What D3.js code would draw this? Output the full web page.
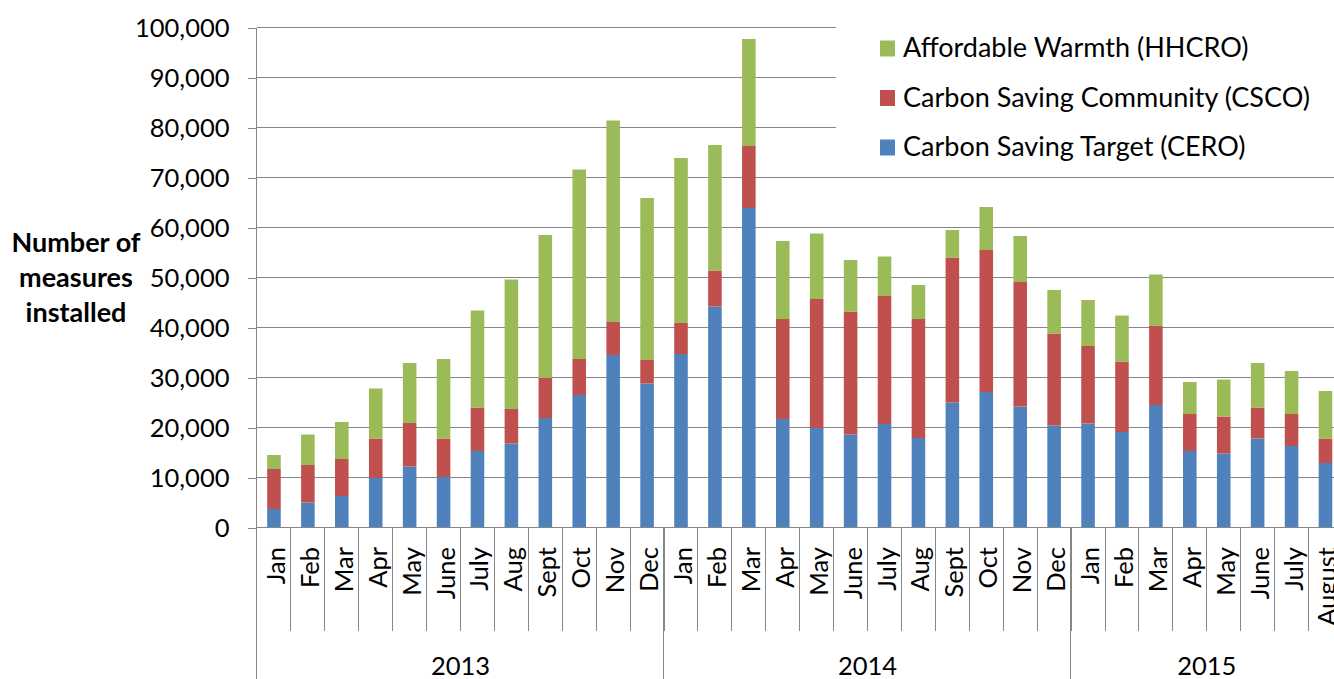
<!DOCTYPE html>
<html>

<head>
    <meta charset="utf-8">
    <style>
        body {
            margin: 0;
            background: #ffffff;
            font-family: Lato, 'Noto Sans', sans-serif;
        }

        .axis path,
        .axis line {
            stroke: #868686;
            shape-rendering: crispEdges;
        }

        .axis text {
            font-family: Lato, sans-serif;
            font-size: 25.5px;
            fill: #000;
        }
    </style>
</head>

<body>
    <svg id="chart"></svg>
    <script src="https://cdnjs.cloudflare.com/ajax/libs/d3/7.8.5/d3.min.js"></script>
    <script>
        // Month labels along the x axis (2013 Jan .. 2015 August)
        const months = ["Jan", "Feb", "Mar", "Apr", "May", "June", "July", "Aug", "Sept", "Oct", "Nov", "Dec",
            "Jan", "Feb", "Mar", "Apr", "May", "June", "July", "Aug", "Sept", "Oct", "Nov", "Dec",
            "Jan", "Feb", "Mar", "Apr", "May", "June", "July", "August"];

        // Year group labels and how many months each one spans
        const years = ["2013", "2014", "2015"];
        const yearMonths = [12, 12, 8];

        // Series values (measures installed per month)
        const cero = [3700, 5000, 6300, 9900, 12200, 10100, 15300, 16800, 21900, 26500, 34500, 28800,
            34700, 44200, 63900, 21700, 19900, 18600, 20700, 17900, 25000, 27100, 24200, 20400,
            20800, 19100, 24500, 15300, 14800, 17800, 16300, 12900];
        const csco = [8000, 7500, 7400, 7900, 8700, 7700, 8700, 6900, 8000, 7200, 6600, 4700,
            6200, 7200, 12400, 20000, 25800, 24600, 25600, 23800, 29000, 28400, 24900, 18400,
            15500, 14100, 15900, 7400, 7400, 6200, 6400, 4900];
        const hhcro = [2800, 6100, 7400, 10000, 12000, 15900, 19400, 25900, 28600, 37900, 40300, 32400,
            33000, 25100, 21400, 15600, 13100, 10300, 7900, 6800, 5500, 8600, 9200, 8700,
            9200, 9200, 10200, 6400, 7400, 8900, 8600, 9500];

        const seriesNames = ["Carbon Saving Target (CERO)", "Carbon Saving Community (CSCO)", "Affordable Warmth (HHCRO)"];
        const seriesColors = ["#4F81BD", "#C0504D", "#9BBB59"];

        const yTicks = [0, 10000, 20000, 30000, 40000, 50000, 60000, 70000, 80000, 90000, 100000];

        const width = 1334;
        const height = 679;
        const left = 257;
        const step = 33.92;
        const baseY = 527.5;
        const topY = 27.5;

        const svg = d3.select("#chart")
            .attr("width", width)
            .attr("height", height);

        // build rows for the stack
        const rows = months.map((m, i) => ({ idx: i, cero: cero[i], csco: csco[i], hhcro: hhcro[i] }));
        const stack = d3.stack().keys(["cero", "csco", "hhcro"]);
        const stacked = stack(rows);

        const x = d3.scaleBand()
            .domain(d3.range(months.length))
            .range([left, left + step * months.length])
            .paddingInner(0.6)
            .paddingOuter(0.3);

        const y = d3.scaleLinear()
            .domain([0, 100000])
            .range([baseY, topY]);

        // gridlines
        svg.append("g")
            .selectAll("line")
            .data(yTicks.slice(1))
            .enter()
            .append("line")
            .attr("x1", left)
            .attr("x2", width)
            .attr("y1", d => y(d))
            .attr("y2", d => y(d))
            .attr("stroke", "#868686")
            .attr("shape-rendering", "crispEdges");

        // bars
        svg.append("g")
            .selectAll("g")
            .data(stacked)
            .enter()
            .append("g")
            .attr("fill", (d, i) => seriesColors[i])
            .selectAll("rect")
            .data(d => d)
            .enter()
            .append("rect")
            .attr("x", d => x(d.data.idx))
            .attr("width", x.bandwidth())
            .attr("y", d => y(d[1]))
            .attr("height", d => y(d[0]) - y(d[1]));

        // y axis
        const yAxis = svg.append("g")
            .attr("class", "axis")
            .attr("transform", `translate(${left - 0.5},0)`)
            .call(d3.axisLeft(y)
                .tickValues(yTicks)
                .tickFormat(d3.format(","))
                .tickSize(9)
                .tickPadding(18));
        yAxis.select(".domain").attr("d", `M0,${topY}V${baseY}`);
        yAxis.selectAll(".tick text").attr("dy", "0.36em");

        // x axis line
        svg.append("line")
            .attr("x1", left)
            .attr("x2", width)
            .attr("y1", baseY)
            .attr("y2", baseY)
            .attr("stroke", "#868686")
            .attr("shape-rendering", "crispEdges");

        // month tick separators
        const xAxis = svg.append("g");
        xAxis.selectAll("line")
            .data(d3.range(1, months.length + 1))
            .enter()
            .append("line")
            .attr("x1", i => left + i * step)
            .attr("x2", i => left + i * step)
            .attr("y1", baseY)
            .attr("y2", 631)
            .attr("stroke", "#868686")
            .attr("shape-rendering", "crispEdges");

        // month labels (rotated)
        xAxis.selectAll("text")
            .data(months)
            .enter()
            .append("text")
            .attr("transform", (d, i) => `translate(${x(i) + x.bandwidth() / 2},547) rotate(-90)`)
            .attr("text-anchor", "end")
            .attr("dy", 11)
            .style("font-family", "Lato, sans-serif")
            .style("font-size", "25.5px")
            .text(d => d);

        // year separators and labels
        let start = 0;
        const yearGroups = years.map((yr, i) => {
            const g = { year: yr, start: start, end: start + yearMonths[i] };
            start += yearMonths[i];
            return g;
        });

        svg.append("g")
            .selectAll("line")
            .data(yearGroups.map(g => g.end))
            .enter()
            .append("line")
            .attr("x1", i => Math.round(left + i * step) - 0.5)
            .attr("x2", i => Math.round(left + i * step) - 0.5)
            .attr("y1", baseY)
            .attr("y2", height)
            .attr("stroke", "#868686");

        // left edge continues down below the axis
        svg.append("line")
            .attr("x1", left - 0.5)
            .attr("x2", left - 0.5)
            .attr("y1", baseY)
            .attr("y2", height)
            .attr("stroke", "#868686");

        svg.append("g")
            .selectAll("text")
            .data(yearGroups)
            .enter()
            .append("text")
            .attr("x", g => left + (g.start + g.end) / 2 * step)
            .attr("y", 675)
            .attr("text-anchor", "middle")
            .style("font-family", "Lato, sans-serif")
            .style("font-size", "25.5px")
            .text(g => g.year);

        // y axis title
        svg.append("text")
            .attr("text-anchor", "middle")
            .style("font-family", "Lato, sans-serif")
            .style("font-size", "27px")
            .style("font-weight", "bold")
            .selectAll("tspan")
            .data(["Number of", "measures", "installed"])
            .enter()
            .append("tspan")
            .attr("x", 76)
            .attr("y", (d, i) => 252 + i * 35)
            .text(d => d);

        // legend (top right, white box over the gridlines)
        const legend = svg.append("g");
        legend.append("rect")
            .attr("x", 836)
            .attr("y", 20)
            .attr("width", width - 836)
            .attr("height", 150)
            .attr("fill", "#ffffff");

        const legendOrder = [2, 1, 0];
        const item = legend.selectAll("g.item")
            .data(legendOrder)
            .enter()
            .append("g")
            .attr("class", "item")
            .attr("transform", (d, i) => `translate(880,${48.5 + i * 49.5})`);

        item.append("rect")
            .attr("x", 0)
            .attr("y", -8)
            .attr("width", 15)
            .attr("height", 16)
            .attr("fill", d => seriesColors[d]);

        item.append("text")
            .attr("x", 23)
            .attr("y", 8.5)
            .style("font-family", "Lato, sans-serif")
            .style("font-size", "27px")
            .text(d => seriesNames[d]);
    </script>
</body>

</html>
